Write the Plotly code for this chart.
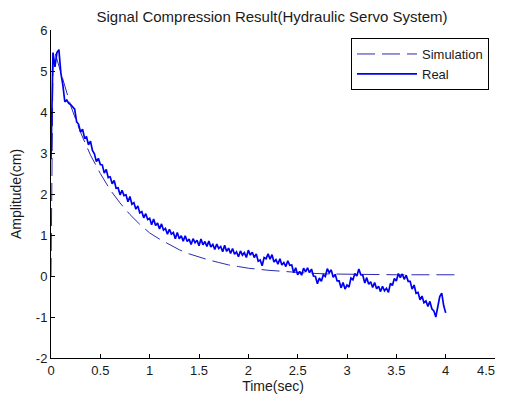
import numpy as np
import plotly.graph_objects as go

# ---- data ----
sim_t = [0, 0.01, 0.02, 0.04, 0.1, 0.2, 0.3, 0.4, 0.5, 0.6, 0.7, 0.8, 0.9, 1.0,
         1.1, 1.2, 1.3, 1.4, 1.5, 1.6, 1.7, 1.8, 1.9, 2.0, 2.2, 2.4, 2.6, 2.8,
         3.0, 3.5, 4.1]
sim_y = [0, 2.8, 5.2, 5.45, 4.95, 4.15, 3.5, 2.95, 2.5, 2.1, 1.78, 1.5, 1.26,
         1.05, 0.9, 0.76, 0.64, 0.54, 0.46, 0.39, 0.33, 0.27, 0.23, 0.19, 0.14,
         0.1, 0.07, 0.05, 0.04, 0.03, 0.03]

real_t = np.round(np.arange(0, 4.0001, 0.02), 2)
real_y = [
    2.85, 5.45, 5.1, 5.45, 5.52, 4.95, 4.66, 4.25, 4.29, 4.21,
    4.18, 4.12, 4.07, 3.76, 3.7, 3.51, 3.58, 3.37, 3.39, 3.2,
    3.29, 3.06, 2.98, 2.79, 2.87, 2.72, 2.71, 2.51, 2.6, 2.4,
    2.42, 2.25, 2.33, 2.14, 2.15, 1.98, 2.09, 1.96, 1.98, 1.81,
    1.94, 1.75, 1.79, 1.63, 1.71, 1.54, 1.57, 1.42, 1.52, 1.38,
    1.41, 1.25, 1.39, 1.23, 1.29, 1.15, 1.27, 1.12, 1.16, 1.02,
    1.14, 1.02, 1.06, 0.91, 1.06, 0.91, 0.98, 0.85, 0.98, 0.84,
    0.9, 0.77, 0.91, 0.81, 0.87, 0.74, 0.9, 0.76, 0.84, 0.72,
    0.85, 0.71, 0.77, 0.65, 0.78, 0.67, 0.72, 0.59, 0.75, 0.6,
    0.68, 0.55, 0.67, 0.53, 0.59, 0.47, 0.61, 0.51, 0.57, 0.45,
    0.63, 0.51, 0.58, 0.45, 0.54, 0.36, 0.39, 0.25, 0.45, 0.42,
    0.54, 0.41, 0.52, 0.34, 0.4, 0.29, 0.42, 0.27, 0.33, 0.23,
    0.37, 0.26, 0.27, 0.08, 0.2, 0.03, 0.11, 0.02, 0.19, 0.1,
    0.2, 0.08, 0.17, 0.0, -0.01, -0.19, -0.05, -0.13, 0.03, -0.01,
    0.18, 0.08, 0.15, -0.03, 0.04, -0.12, -0.12, -0.29, -0.16, -0.32,
    -0.22, -0.27, -0.05, -0.09, 0.06, 0.0, 0.17, 0.03, 0.02, -0.17,
    -0.04, -0.2, -0.14, -0.28, -0.16, -0.31, -0.25, -0.38, -0.25, -0.36,
    -0.3, -0.4, -0.18, -0.23, -0.06, -0.12, 0.06, -0.04, 0.05, -0.08,
    0.02, -0.13, -0.13, -0.32, -0.22, -0.42, -0.4, -0.58, -0.49, -0.65,
    -0.61, -0.74, -0.62, -0.8, -0.85, -1.0, -0.78, -0.5, -0.42, -0.72,
    -0.9,
]

x_ticks = [0, 0.5, 1, 1.5, 2, 2.5, 3, 3.5, 4, 4.5]
x_labels = ["0", "0.5", "1", "1.5", "2", "2.5", "3", "3.5", "4", "4.5"]
y_ticks = [-2, -1, 0, 1, 2, 3, 4, 5, 6]

FONT = "Liberation Sans, Arial, sans-serif"
TXT = "#1a1a1a"

# the last x label is drawn right-aligned on its tick so it stays on the page
x_text = x_labels[:-1] + [""]

fig = go.Figure()
fig.add_trace(go.Scatter(
    x=sim_t, y=sim_y, mode="lines", name="Simulation",
    line=dict(color="#2a2ab4", width=1, dash="18px,7px"),
))
fig.add_trace(go.Scatter(
    x=real_t, y=real_y, mode="lines", name="Real",
    line=dict(color="#0000f0", width=1.7),
))

axis_common = dict(
    showline=True, linecolor="black", linewidth=1, mirror=False,
    ticks="inside", ticklen=4, tickcolor="black", tickwidth=1,
    showgrid=False, zeroline=False, automargin=False,
    tickfont=dict(family=FONT, size=13, color=TXT),
)

# the page body adds an 8px margin, so the figure is offset by 8px
W, H = 497, 388
fig.update_layout(
    width=W, height=H,
    margin=dict(l=43, r=10, t=22, b=38),
    paper_bgcolor="white", plot_bgcolor="white",
    font=dict(family=FONT, size=13, color=TXT),
    title=dict(text="Signal Compression Result(Hydraulic Servo System)",
               x=264 / W, xanchor="center", y=1 - 9 / H, yanchor="middle",
               font=dict(family=FONT, size=15, color=TXT)),
    xaxis=dict(range=[0, 4.5], tickvals=x_ticks, ticktext=x_text,
               title=dict(text="Time(sec)", standoff=4,
                          font=dict(family=FONT, size=14, color=TXT)),
               **axis_common),
    yaxis=dict(range=[-2, 6], tickvals=y_ticks,
               ticktext=[str(v) for v in y_ticks],
               title=dict(text="Amplitude(cm)", standoff=10,
                          font=dict(family=FONT, size=14, color=TXT)),
               **axis_common),
    legend=dict(x=0.9865, xanchor="right", y=0.9756, yanchor="top",
                bordercolor="black", borderwidth=1, bgcolor="white",
                font=dict(family=FONT, size=13, color=TXT),
                tracegroupgap=0, itemwidth=60),
    showlegend=True,
)

fig.add_annotation(
    x=x_ticks[-1], xref="x", y=0, yref="paper",
    text=x_labels[-1], showarrow=False,
    xanchor="right", yanchor="top", yshift=-3, xshift=2,
    font=dict(family=FONT, size=13, color=TXT),
)

fig.write_html("out.html")
